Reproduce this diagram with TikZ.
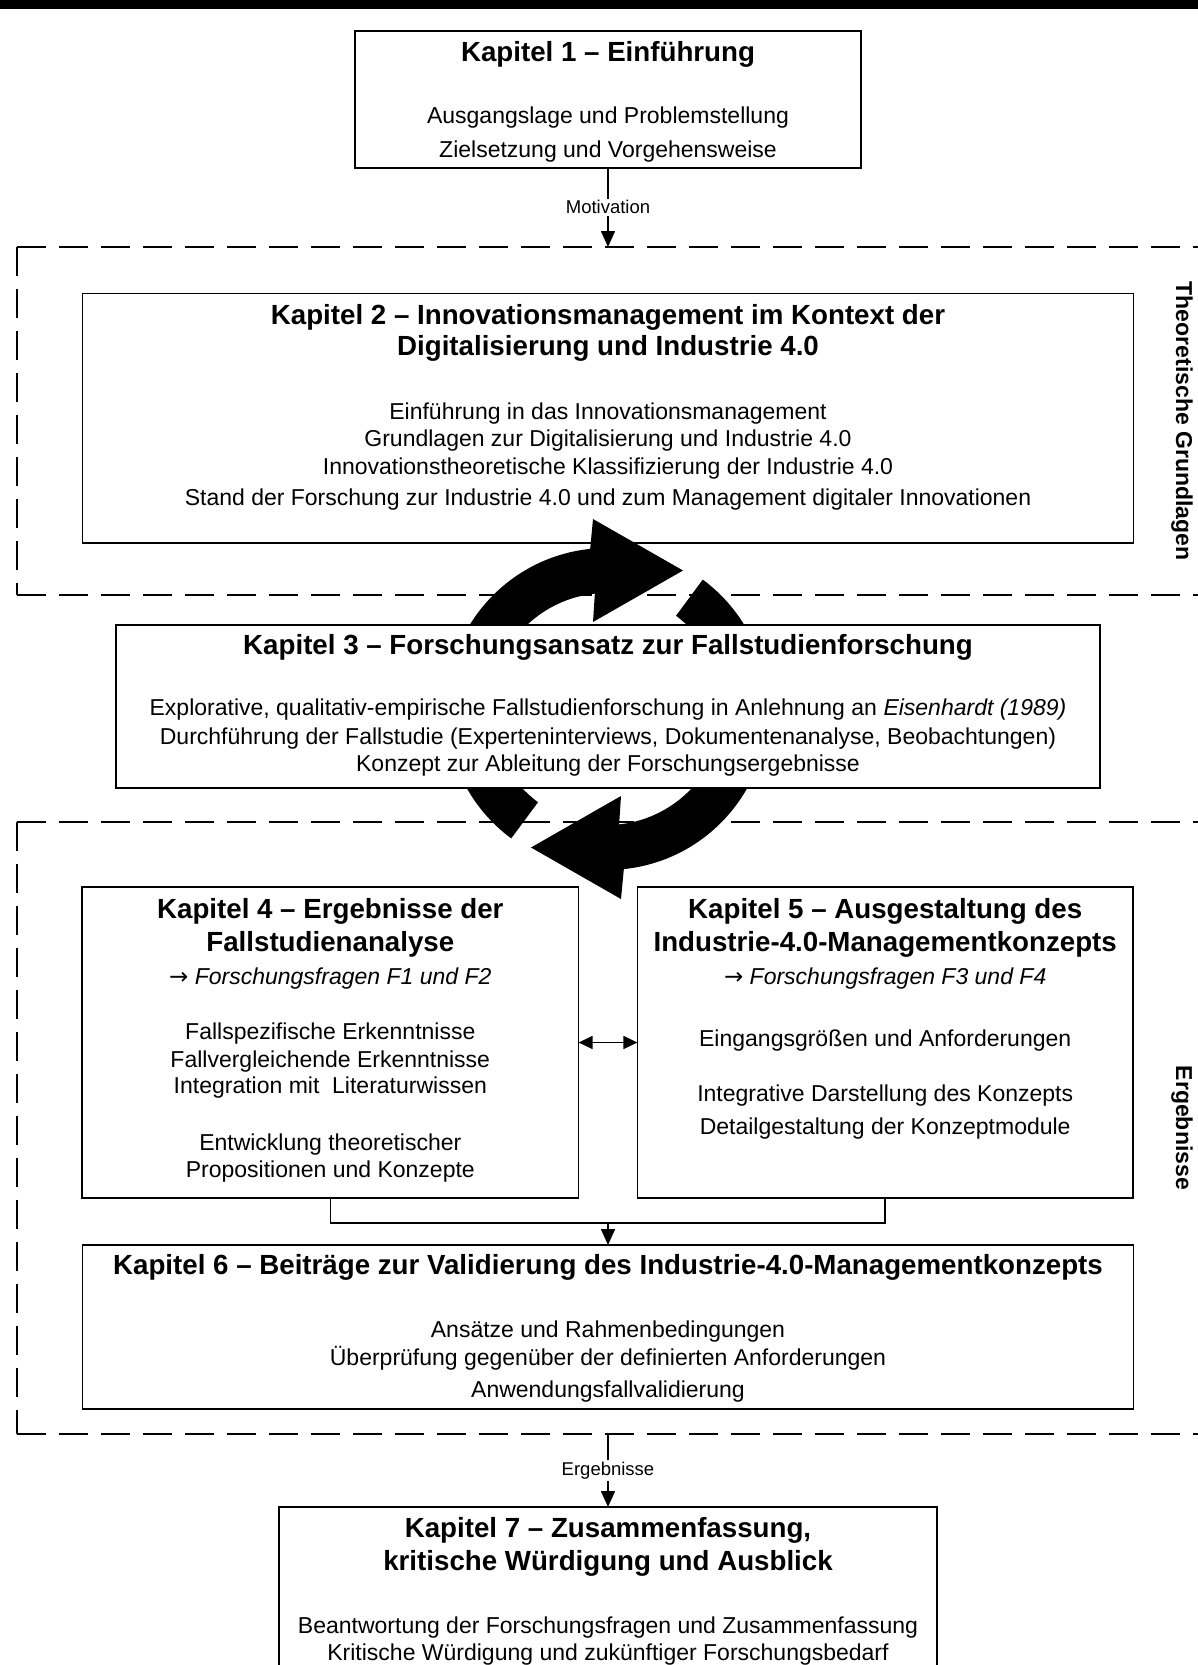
\documentclass[tikz,border=0pt]{standalone}
\usepackage{fontspec}
\setmainfont{Liberation Sans}
\newfontfamily\arrowfont{DejaVu Sans}
\usetikzlibrary{positioning,arrows.meta}

\newcommand{\kaptitle}{\fontsize{27.7pt}{33pt}\selectfont\bfseries}
\newcommand{\kapbody}{\fontsize{23pt}{27.5pt}\selectfont}
\newcommand{\kapsmall}{\fontsize{18.5pt}{22pt}\selectfont}
\newcommand{\grpfont}{\fontsize{23pt}{27pt}\selectfont\bfseries}
\newcommand{\kapbox}[4]{\parbox[t][#2][t]{#1}{\centering\vspace*{#3}#4}}
\newcommand{\fragen}[1]{{\arrowfont →} \textit{Forschungsfragen #1}}

\begin{document}
\begin{tikzpicture}[x=1pt, y=-1pt,
		kap/.style={draw, fill=white, line width=1.6pt, inner sep=0pt, outer sep=0pt, anchor=north},
		grpline/.style={line width=1.6pt, dash pattern=on 29pt off 13pt},
		grplbl/.style={rotate=-90, font=\grpfont},
		lbl/.style={fill=white, inner sep=2pt, font=\kapsmall},
		conn/.style={line width=1.6pt},
		arr/.style={conn, -{Triangle[length=16pt, width=14pt]}},
		dbl/.style={conn, {Triangle[length=14pt, width=13pt]}-{Triangle[length=14pt, width=13pt]}}]
		\useasboundingbox (0,0) rectangle (1198,1665);
		\fill[white] (0,0) rectangle (1198,1665);
		\fill (0,0) rectangle (1198,8.5);

		\foreach \gt/\gb/\gname/\gtext in {247/595/grp1/Theoretische Grundlagen, 821.7/1434/grp2/Ergebnisse} {
			\draw[grpline] (17,\gt) -- (1210,\gt);
			\draw[grpline] (17,\gt) -- (17,\gb);
			\draw[grpline] (17,\gb) -- (1210,\gb);
			\node[grplbl] (\gname) at (1182,{(\gt+\gb)/2}) {\gtext};
		}

		\node[kap] (k1) at (608,30.7) {\kapbox{506pt}{137pt}{10.6pt}{%
			{\kaptitle Kapitel 1 – Einführung\par}\vspace{35pt}%
			{\kapbody Ausgangslage und Problemstellung\\[6pt] Zielsetzung und Vorgehensweise\par}}};
		\node[kap, below=125.9pt of k1] (k2) {\kapbox{1051pt}{249.4pt}{10.7pt}{%
			{\kaptitle Kapitel 2 – Innovationsmanagement im Kontext der\\[-2pt] Digitalisierung und Industrie 4.0\par}\vspace{37pt}%
			{\kapbody Einführung in das Innovationsmanagement\\[-0.5pt] Grundlagen zur Digitalisierung und Industrie 4.0\\ Innovationstheoretische Klassifizierung der Industrie 4.0\\[4pt] Stand der Forschung zur Industrie 4.0 und zum Management digitaler Innovationen\par}}};

		\begin{scope}[shift={(607,709)}, y=1pt]
			\foreach \rot in {0,180}
				\fill[rotate=\rot] (233.5:116) arc[start angle=233.5, end angle=96, radius=116]
					-- (-14,87) -- (76,138.5) -- (-14,190) -- (96:161)
					arc[start angle=96, end angle=233.5, radius=161] -- cycle;
		\end{scope}

		\node[kap, below=82pt of k2] (k3) {\kapbox{984pt}{163pt}{9.3pt}{%
			{\kaptitle Kapitel 3 – Forschungsansatz zur Fallstudienforschung\par}\vspace{34pt}%
			{\kapbody Explorative, qualitativ-empirische Fallstudienforschung in Anlehnung an \textit{Eisenhardt (1989)}\\[1.5pt] Durchführung der Fallstudie (Experteninterviews, Dokumentenanalyse, Beobachtungen)\\[-0.5pt] Konzept zur Ableitung der Forschungsergebnisse\par}}};
		\node[kap] (k4) at (330.3,887) {\kapbox{496.6pt}{311pt}{11.3pt}{%
			{\kaptitle Kapitel 4 – Ergebnisse der\\ Fallstudienanalyse\par}\vspace{6pt}%
			{\kapbody\fragen{F1 und F2}\par}\vspace{27.5pt}%
			{\kapbody Fallspezifische Erkenntnisse\\[0.5pt] Fallvergleichende Erkenntnisse\\[-1.5pt] Integration mit~~Literaturwissen\\[29.5pt] Entwicklung theoretischer\\[-0.5pt] Propositionen und Konzepte\par}}};
		\node[kap, right=58.8pt of k4] (k5) {\kapbox{495.6pt}{311pt}{11.3pt}{%
			{\kaptitle Kapitel 5 – Ausgestaltung des\\ Industrie-4.0-Managementkonzepts\par}\vspace{6pt}%
			{\kapbody\fragen{F3 und F4}\par}\vspace{34.5pt}%
			{\kapbody Eingangsgrößen und Anforderungen\\[27.5pt] Integrative Darstellung des Konzepts\\[5.5pt] Detailgestaltung der Konzeptmodule\par}}};
		\node[kap] (k6) at (608,1245) {\kapbox{1051pt}{164pt}{9.8pt}{%
			{\kaptitle Kapitel 6 – Beiträge zur Validierung des Industrie-4.0-Managementkonzepts\par}\vspace{35.5pt}%
			{\kapbody Ansätze und Rahmenbedingungen\\[0.5pt] Überprüfung gegenüber der definierten Anforderungen\\[4.5pt] Anwendungsfallvalidierung\par}}};
		\node[kap, below=98pt of k6] (k7) {\kapbox{658pt}{220pt}{10.3pt}{%
			{\kaptitle Kapitel 7 – Zusammenfassung,\\ kritische Würdigung und Ausblick\par}\vspace{36pt}%
			{\kapbody Beantwortung der Forschungsfragen und Zusammenfassung\\[-0.5pt] Kritische Würdigung und zukünftiger Forschungsbedarf\par}}};

		\coordinate (g1top) at (608,247);
		\coordinate (g2bot) at (608,1434);
		\coordinate (join) at (608,1223);

		\path[arr] (k1.south) edge node[lbl] {Motivation} (g1top);
		\path[dbl] (k4) edge (k5);
		\draw[conn] (k4.south) |- (join) -| (k5.south);
		\path[arr] (join) edge (join |- k6.north);
		\path[arr] (g2bot) edge node[lbl] {Ergebnisse} (k7.north);
	\end{tikzpicture}
\end{document}
